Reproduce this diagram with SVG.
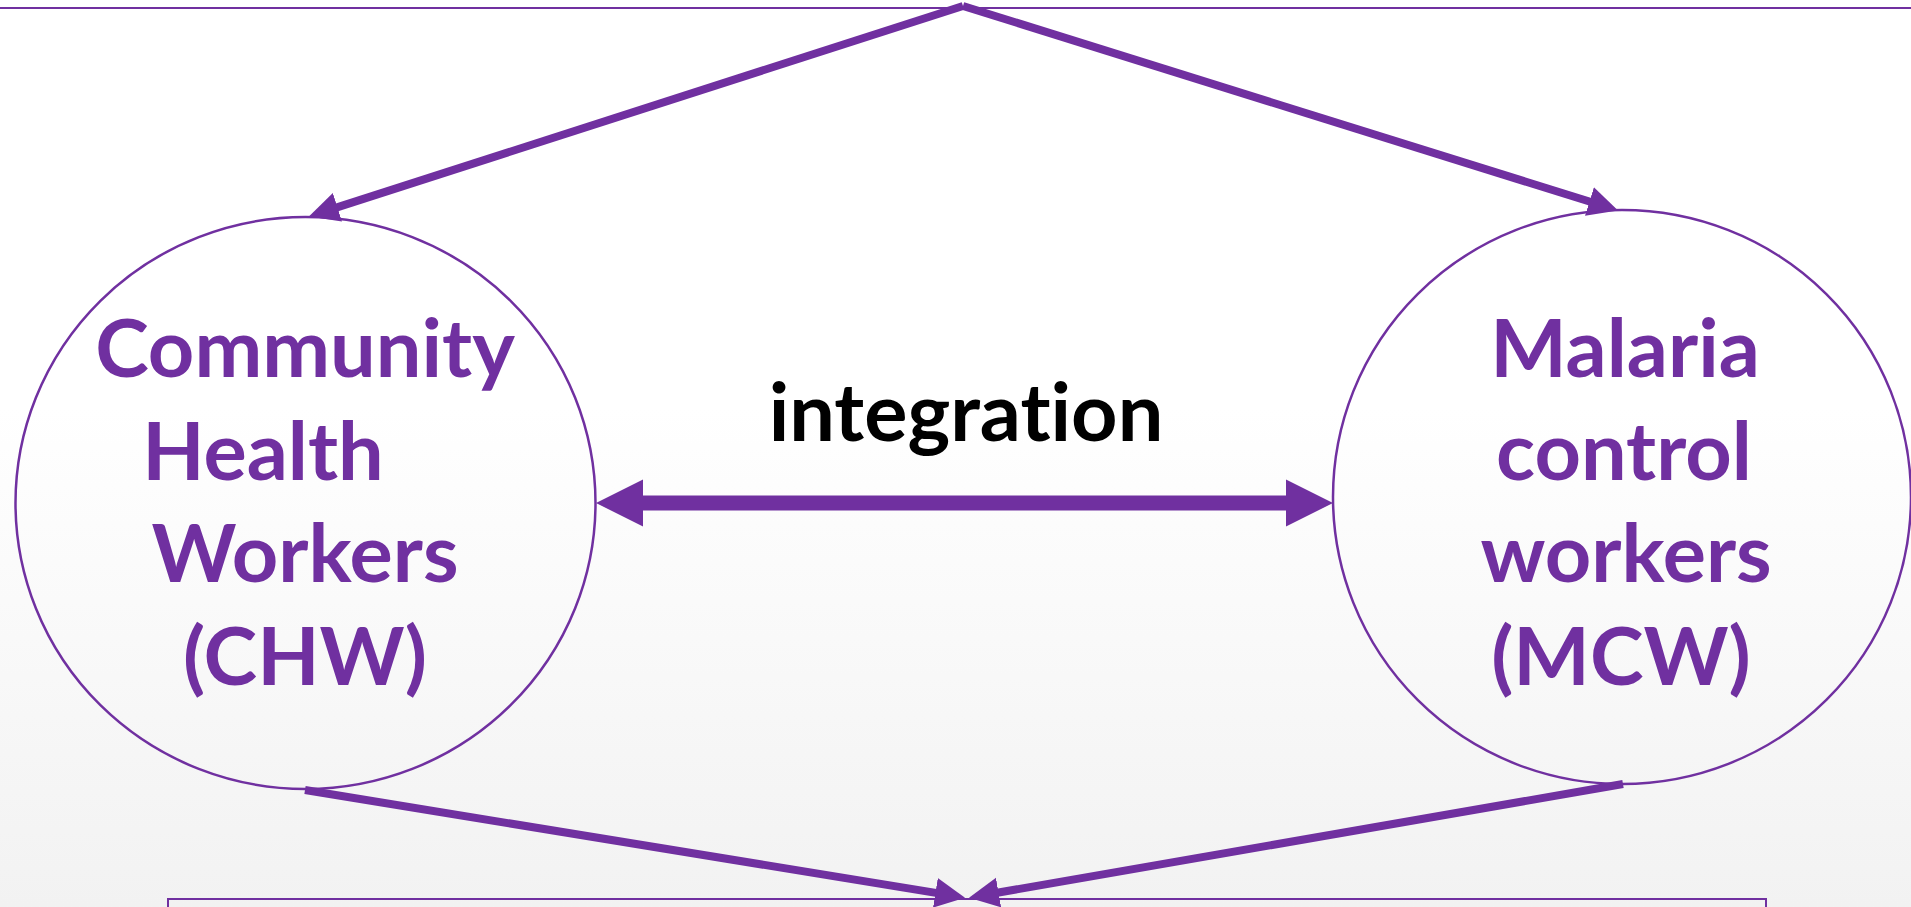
<svg xmlns="http://www.w3.org/2000/svg" width="1911" height="907" viewBox="0 0 1911 907">
  <defs>
    <linearGradient id="bg" x1="0" y1="0" x2="0" y2="1">
      <stop offset="0" stop-color="#ffffff"/>
      <stop offset="0.45" stop-color="#ffffff"/>
      <stop offset="1" stop-color="#f2f2f2"/>
    </linearGradient>
    <marker id="head" markerUnits="userSpaceOnUse" markerWidth="32" markerHeight="32" refX="16" refY="15" orient="auto" viewBox="0 0 32 30">
      <path d="M0,0 L30,15 L0,30 z" fill="#7030A0"/>
    </marker>
    <marker id="bighead" markerUnits="userSpaceOnUse" markerWidth="48" markerHeight="48" refX="24" refY="23.5" orient="auto-start-reverse" viewBox="0 0 48 47">
      <path d="M0,0 L47,23.5 L0,47 z" fill="#7030A0"/>
    </marker>
    <style>
      .ring { fill: none; stroke: #7030A0; stroke-width: 2.5; }
      .box { fill: none; stroke: #7030A0; stroke-width: 2; }
      .conn { stroke: #7030A0; stroke-width: 8; fill: none; }
      .lbl, .mid { font-family: Lato, "Liberation Sans", sans-serif; font-weight: bold; font-size: 81px; text-anchor: middle; font-variant-ligatures: none; font-feature-settings: "liga" 0, "dlig" 0; }
      .lbl { fill: #7030A0; }
      .mid { fill: #000000; }
    </style>
  </defs>
  <rect x="0" y="0" width="1911" height="907" fill="url(#bg)"/>

  <g id="top-box">
    <rect class="box" x="-10" y="-100" width="1931" height="108"/>
  </g>

  <g id="bottom-box">
    <rect class="box" x="168" y="899" width="1598" height="100"/>
  </g>

  <g id="chw">
    <ellipse class="ring" cx="305.5" cy="503" rx="290" ry="286"/>
    <text class="lbl" x="305" y="377">Community</text>
    <text class="lbl" x="263" y="480">Health</text>
    <text class="lbl" x="305" y="582">Workers</text>
    <text class="lbl" x="305" y="685">(CHW)</text>
  </g>

  <g id="mcw">
    <ellipse class="ring" cx="1622" cy="497" rx="289" ry="287"/>
    <text class="lbl" x="1625" y="377">Malaria</text>
    <text class="lbl" x="1624" y="480">control</text>
    <text class="lbl" x="1626" y="582">workers</text>
    <text class="lbl" x="1621" y="685">(MCW)</text>
  </g>

  <g id="integration-label">
    <text class="mid" x="966" y="441">integration</text>
  </g>

  <g id="connectors">
    <line class="conn" x1="963" y1="6" x2="322.2" y2="212.1" marker-end="url(#head)"/>
    <line class="conn" x1="963" y1="6" x2="1604.7" y2="206.3" marker-end="url(#head)"/>
    <line class="conn" x1="305" y1="790" x2="951.2" y2="895.4" marker-end="url(#head)"/>
    <line class="conn" x1="1623" y1="784" x2="982.8" y2="895.3" marker-end="url(#head)"/>
    <line x1="619" y1="503" x2="1310" y2="503" stroke="#7030A0" stroke-width="15" marker-start="url(#bighead)" marker-end="url(#bighead)"/>
  </g>
</svg>
